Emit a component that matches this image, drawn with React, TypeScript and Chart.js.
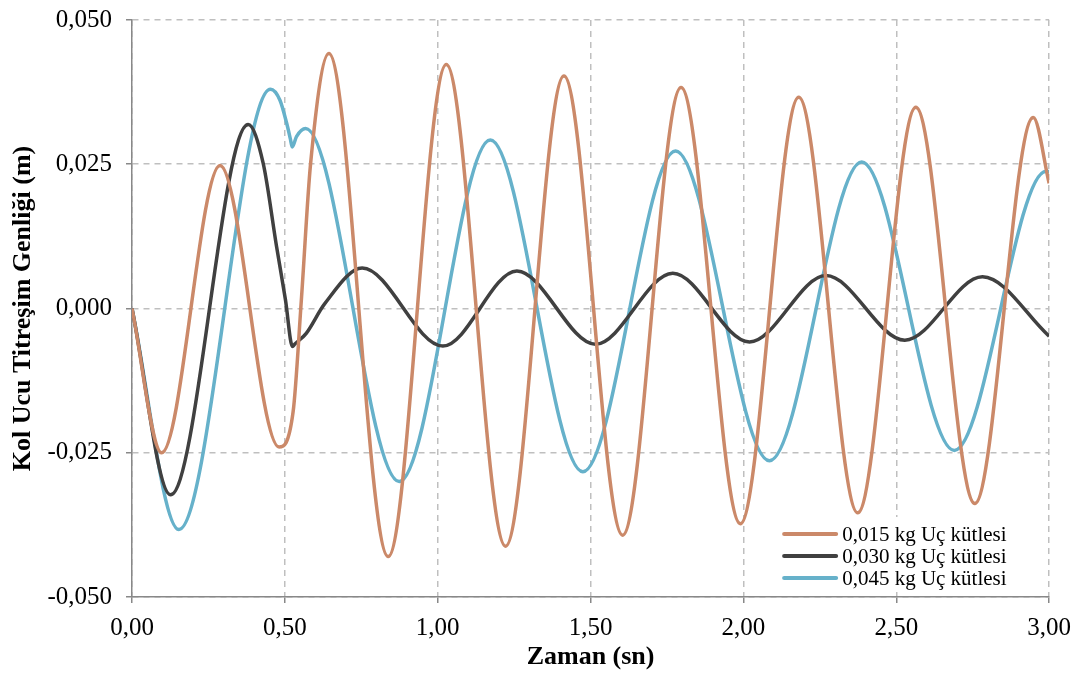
import React, { useEffect, useRef } from "react";
import { Chart, registerables } from "chart.js";

Chart.register(...registerables);

// Time (s) and amplitude (m)
const t015 = [0, 0.097, 0.288, 0.481, 0.527, 0.554, 0.584, 0.644, 0.838, 1.028, 1.222, 1.413, 1.605, 1.796, 1.99, 2.181, 2.374, 2.564, 2.757, 2.948, 3.0];
const y015 = [0, -0.025, 0.0248, -0.024, -0.0179, 0.0015, 0.025, 0.0442, -0.043, 0.0423, -0.0412, 0.0403, -0.0393, 0.0383, -0.0373, 0.0366, -0.0354, 0.0349, -0.0338, 0.0331, 0.0217];

const t030 = [0, 0.126, 0.38, 0.429, 0.473, 0.502, 0.525, 0.532, 0.57, 0.63, 0.753, 1.017, 1.259, 1.516, 1.769, 2.02, 2.27, 2.528, 2.782, 3.0];
const y030 = [0, -0.0323, 0.0319, 0.0252, 0.0107, 0.0015, -0.0066, -0.0062, -0.0043, 0.0008, 0.007, -0.0065, 0.0065, -0.0062, 0.0061, -0.0058, 0.0057, -0.0055, 0.0055, -0.0048];

const t045 = [0, 0.153, 0.453, 0.484, 0.506, 0.518, 0.524, 0.538, 0.568, 0.874, 1.172, 1.475, 1.778, 2.085, 2.387, 2.69, 2.99, 3.0];
const y045 = [0, -0.0383, 0.038, 0.0361, 0.0321, 0.0294, 0.028, 0.0298, 0.0312, -0.03, 0.0292, -0.0283, 0.0273, -0.0264, 0.0254, -0.0246, 0.0238, 0.0237];

const seriesLabels = ["0,015 kg Uç kütlesi", "0,030 kg Uç kütlesi", "0,045 kg Uç kütlesi"];
const seriesColors = ["#CB8969", "#404040", "#66B1CA"];

const xTickLabels = ["0,00", "0,50", "1,00", "1,50", "2,00", "2,50", "3,00"];
const yTickLabels = ["-0,050", "-0,025", "0,000", "0,025", "0,050"];

const xTitle = "Zaman (sn)";
const yTitle = "Kol Ucu Titreşim Genliği (m)";

const FONT = "'Liberation Serif', 'Times New Roman', serif";

const toPoints = (xs: number[], ys: number[]) => xs.map((x, i) => ({ x, y: ys[i] }));

const legendPlugin = {
  id: "insideLegend",
  beforeDatasetsDraw(chart: any) {
    const { ctx, chartArea } = chart;
    ctx.save();
    ctx.fillStyle = "#ffffff";
    ctx.fillRect(chartArea.right - 272, chartArea.bottom - 80, 240, 73);
    ctx.restore();
  },
  afterDatasetsDraw(chart: any) {
    const { ctx, chartArea } = chart;
    ctx.save();
    ctx.font = `21px ${FONT}`;
    ctx.textBaseline = "middle";
    ctx.textAlign = "left";
    chart.data.datasets.forEach((ds: any, i: number) => {
      const y = chartArea.bottom - 63 + i * 22;
      const x0 = chartArea.right - 265;
      ctx.strokeStyle = ds.borderColor;
      ctx.lineWidth = 4;
      ctx.lineCap = "round";
      ctx.beginPath();
      ctx.moveTo(x0, y);
      ctx.lineTo(x0 + 52, y);
      ctx.stroke();
      ctx.fillStyle = "#000";
      ctx.fillText(ds.label, x0 + 58, y + 1);
    });
    ctx.restore();
  },
};

export default function App() {
  const ref = useRef<HTMLCanvasElement | null>(null);

  useEffect(() => {
    document.body.style.margin = "0";
    const canvas = ref.current;
    if (!canvas) return;
    const series = [toPoints(t015, y015), toPoints(t030, y030), toPoints(t045, y045)];
    const chart = new Chart(canvas, {
      type: "line",
      data: {
        datasets: series.map((pts, i) => ({
          label: seriesLabels[i],
          data: pts,
          borderColor: seriesColors[i],
          backgroundColor: seriesColors[i],
          borderWidth: 3.5,
          pointRadius: 0,
          fill: false,
          cubicInterpolationMode: "monotone" as const,
        })),
      },
      options: {
        responsive: false,
        animation: false,
        layout: { padding: { top: 20, right: 31, left: 0, bottom: 0 } },
        plugins: {
          legend: { display: false },
          tooltip: { enabled: false },
        },
        scales: {
          x: {
            type: "linear",
            min: 0,
            max: 3,
            ticks: {
              stepSize: 0.5,
              color: "#000",
              font: { family: FONT, size: 25 },
              padding: 10,
              maxRotation: 0,
              callback: (_v: any, i: number) => xTickLabels[i],
            },
            grid: { color: "#BFBFBF", lineWidth: 1.5, tickLength: 6, tickColor: "#888888", tickWidth: 1.5 },
            border: { display: true, color: "#888888", width: 1.5, dash: [6, 5] },
            title: {
              display: true,
              text: xTitle,
              color: "#000",
              font: { family: FONT, size: 26, weight: "bold" },
              padding: { top: 0, bottom: 0 },
            },
            afterFit: (scale: any) => {
              scale.height = 76;
            },
          },
          y: {
            type: "linear",
            min: -0.05,
            max: 0.05,
            ticks: {
              stepSize: 0.025,
              color: "#000",
              font: { family: FONT, size: 25 },
              padding: 14,
              callback: (_v: any, i: number) => yTickLabels[i],
            },
            grid: { color: "#BFBFBF", lineWidth: 1.5, tickLength: 6, tickColor: "#888888", tickWidth: 1.5 },
            border: { display: true, color: "#888888", width: 1.5, dash: [6, 5] },
            title: {
              display: true,
              text: yTitle,
              color: "#000",
              font: { family: FONT, size: 26, weight: "bold" },
              padding: { top: 8, bottom: 0 },
            },
            afterFit: (scale: any) => {
              scale.width = 132;
              scale.paddingTop = 0;
              scale.paddingBottom = 0;
            },
          },
        },
      },
      plugins: [legendPlugin],
    });
    return () => chart.destroy();
  }, []);

  return (
    <div style={{ width: 1081, height: 673 }}>
      <canvas ref={ref} width={1081} height={673} style={{ display: "block" }} />
    </div>
  );
}
